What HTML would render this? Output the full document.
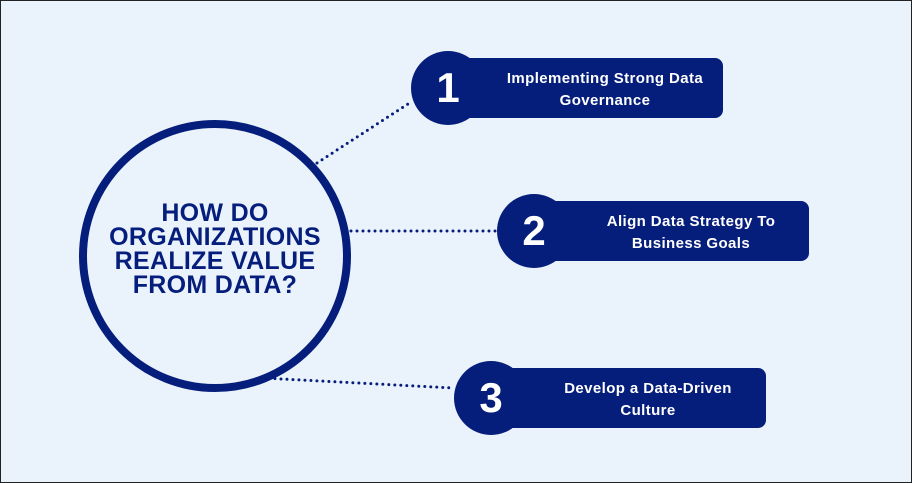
<!DOCTYPE html>
<html><head><style>
body{margin:0;background:#fff;}
.f{position:relative;width:910px;height:481px;border:1px solid #222;background:#eaf2fc;overflow:hidden;font-family:"Liberation Sans",sans-serif;}
.c{position:absolute;left:78px;top:119px;width:256px;height:256px;border:8px solid #061e7b;border-radius:50%;}
.ct{position:absolute;left:60px;top:200px;width:308px;text-align:center;color:#061e7b;font-weight:900;font-size:25px;line-height:24px;letter-spacing:0.3px;}
.b{position:absolute;background:#061e7b;border-radius:8px;height:60px;width:276px;color:#fff;font-weight:bold;font-size:15px;line-height:22px;letter-spacing:0.4px;text-align:center;box-sizing:border-box;padding-top:10px;padding-left:40px;white-space:nowrap;}
.n{position:absolute;width:74px;height:74px;border-radius:50%;background:#061e7b;color:#fff;font-weight:900;font-size:42px;line-height:74px;text-align:center;}
</style></head><body><div class="f">
<svg width="910" height="481" style="position:absolute;left:0;top:0">
<g stroke="#061e7b" stroke-width="3" stroke-linecap="round" stroke-dasharray="0 6" fill="none">
<line x1="316" y1="162" x2="410" y2="101"/>
<line x1="350" y1="230" x2="496" y2="230"/>
<line x1="262" y1="377" x2="452" y2="387"/>
</g></svg>
<div class="c"></div>
<div class="ct">HOW DO<br>ORGANIZATIONS<br>REALIZE VALUE<br>FROM DATA?</div>
<div class="b" style="left:446px;top:57px">Implementing Strong Data<br>Governance</div>
<div class="n" style="left:410px;top:50px">1</div>
<div class="b" style="left:532px;top:200px">Align Data Strategy To<br>Business Goals</div>
<div class="n" style="left:496px;top:193px">2</div>
<div class="b" style="left:489px;top:367px">Develop a Data-Driven<br>Culture</div>
<div class="n" style="left:453px;top:360px">3</div>
</div></body></html>
